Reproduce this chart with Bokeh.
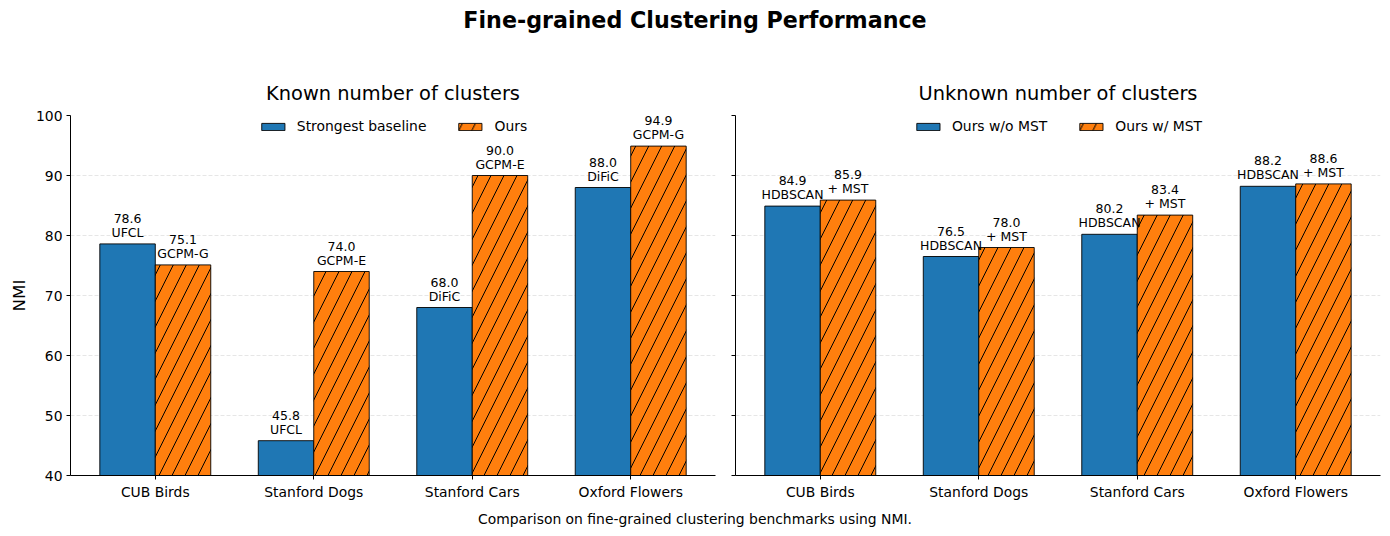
from bokeh.plotting import figure
from bokeh.models import (Div, ColumnDataSource, Legend, LegendItem, FixedTicker, Range1d,
                          CustomLabelingPolicy, LabelSet)
from bokeh.layouts import column, row
from bokeh.embed import file_html
from bokeh.resources import INLINE
from bokeh.core.properties import value

categories = ["CUB Birds", "Stanford Dogs", "Stanford Cars", "Oxford Flowers"]

known_baseline = [78.6, 45.8, 68.0, 88.0]
known_baseline_names = ["UFCL", "UFCL", "DiFiC", "DiFiC"]
known_ours = [75.1, 74.0, 90.0, 94.9]
known_ours_names = ["GCPM-G", "GCPM-E", "GCPM-E", "GCPM-G"]

unknown_wo = [84.9, 76.5, 80.2, 88.2]
unknown_wo_names = ["HDBSCAN", "HDBSCAN", "HDBSCAN", "HDBSCAN"]
unknown_w = [85.9, 78.0, 83.4, 88.6]
unknown_w_names = ["+ MST", "+ MST", "+ MST", "+ MST"]

y_ticks = [40, 50, 60, 70, 80, 90, 100]

FONT = "DejaVu Sans"
BLUE = "#1f77b4"
ORANGE = "#ff7f0e"
BW = 0.35


def panel(title, a_vals, a_names, b_vals, b_names, a_label, b_label, width, left_border, show_ylabels):
    p = figure(width=width, height=455, output_backend="svg", toolbar_location=None,
               x_range=Range1d(-0.535, 3.535), y_range=Range1d(40, 100),
               min_border_left=left_border, min_border_right=10,
               min_border_top=65, min_border_bottom=30)
    p.title.text = title
    p.title.text_font = FONT
    p.title.text_font_size = "19.4px"
    p.title.text_font_style = "normal"
    p.title.text_color = "black"
    p.title.align = "center"
    p.title.standoff = 21
    p.outline_line_color = None
    p.background_fill_color = "white"
    p.border_fill_color = "white"

    xs = list(range(len(categories)))
    xa = [x - BW / 2 for x in xs]
    xb = [x + BW / 2 for x in xs]
    sa = ColumnDataSource(dict(x=xa, top=a_vals, val=[f"{v:.1f}" for v in a_vals], name=a_names))
    sb = ColumnDataSource(dict(x=xb, top=b_vals, val=[f"{v:.1f}" for v in b_vals], name=b_names))
    ra = p.vbar(x="x", top="top", bottom=40, width=BW, source=sa,
                fill_color=BLUE, line_color="black", line_width=0.9)
    rb = p.vbar(x="x", top="top", bottom=40, width=BW, source=sb,
                fill_color=ORANGE, line_color="black", line_width=0.9,
                hatch_pattern="/", hatch_color="black", hatch_weight=1, hatch_scale=26)
    for s in (sa, sb):
        for field, off in (("name", 4), ("val", 21)):
            p.add_layout(LabelSet(x="x", y="top", text=field, source=s, text_align="center",
                                  text_baseline="bottom", y_offset=off, text_font=value(FONT),
                                  text_font_size="12.5px", text_color="black"))

    legend = Legend(items=[LegendItem(label=a_label, renderers=[ra]),
                           LegendItem(label=b_label, renderers=[rb])],
                    location="top_center", orientation="horizontal")
    legend.label_text_font = FONT
    legend.label_text_font_size = "13.9px"
    legend.label_text_color = "black"
    legend.glyph_width = 29
    legend.glyph_height = 9
    legend.spacing = 29
    legend.label_standoff = 10
    legend.padding = 2
    legend.margin = 3
    legend.border_line_color = None
    legend.background_fill_alpha = 0
    p.add_layout(legend)

    p.xgrid.grid_line_color = None
    p.ygrid.grid_line_color = "#b0b0b0"
    p.ygrid.grid_line_alpha = 0.4
    p.ygrid.grid_line_dash = "4 2"
    p.ygrid.grid_line_width = 0.8
    p.ygrid.ticker = FixedTicker(ticks=y_ticks)

    p.xaxis.ticker = FixedTicker(ticks=xs)
    p.xaxis.major_label_overrides = {i: c for i, c in enumerate(categories)}
    p.yaxis.ticker = FixedTicker(ticks=y_ticks)
    for ax in (p.xaxis[0], p.yaxis[0]):
        ax.axis_line_color = "black"
        ax.axis_line_width = 1
        ax.major_tick_in = 0
        ax.major_tick_out = 4
        ax.major_tick_line_color = "black"
        ax.minor_tick_line_color = None
        ax.major_label_text_font = FONT
        ax.major_label_text_font_size = "13.9px"
        ax.major_label_text_color = "black"
        ax.major_label_standoff = 4
    if show_ylabels:
        p.yaxis.axis_label = "NMI"
        p.yaxis.axis_label_text_font = FONT
        p.yaxis.axis_label_text_font_size = "16.7px"
        p.yaxis.axis_label_text_font_style = "normal"
        p.yaxis.axis_label_text_color = "black"
        p.yaxis.axis_label_standoff = 4
    else:
        p.yaxis.major_label_policy = CustomLabelingPolicy(code="""
            const n = indices.size
            for (let i = 0; i < n; i++) { indices.unset(i) }
            return indices
        """)
        p.yaxis.major_label_text_font_size = "0px"
        p.yaxis.major_label_standoff = 0
    return p


p1 = panel("Known number of clusters", known_baseline, known_baseline_names,
           known_ours, known_ours_names, "Strongest baseline", "Ours", 725, 70, True)
p2 = panel("Unknown number of clusters", unknown_wo, unknown_wo_names,
           unknown_w, unknown_w_names, "Ours w/o MST", "Ours w/ MST", 665, 10, False)

sup = Div(text="Fine-grained Clustering Performance", width=1390, height=50, margin=0,
          styles={"text-align": "center", "font-family": FONT, "font-size": "22.2px",
                  "font-weight": "bold", "padding-top": "5px", "width": "1390px", "color": "black"})
cap = Div(text="Comparison on fine-grained clustering benchmarks using NMI.", width=1390, height=31,
          margin=0,
          styles={"text-align": "center", "font-family": FONT, "font-size": "13.9px",
                  "padding-top": "5px", "width": "1390px", "color": "black"})

layout = column(sup, row(p1, p2, spacing=0), cap, spacing=0)

with open("out.html", "w") as f:
    f.write(file_html(layout, INLINE))
